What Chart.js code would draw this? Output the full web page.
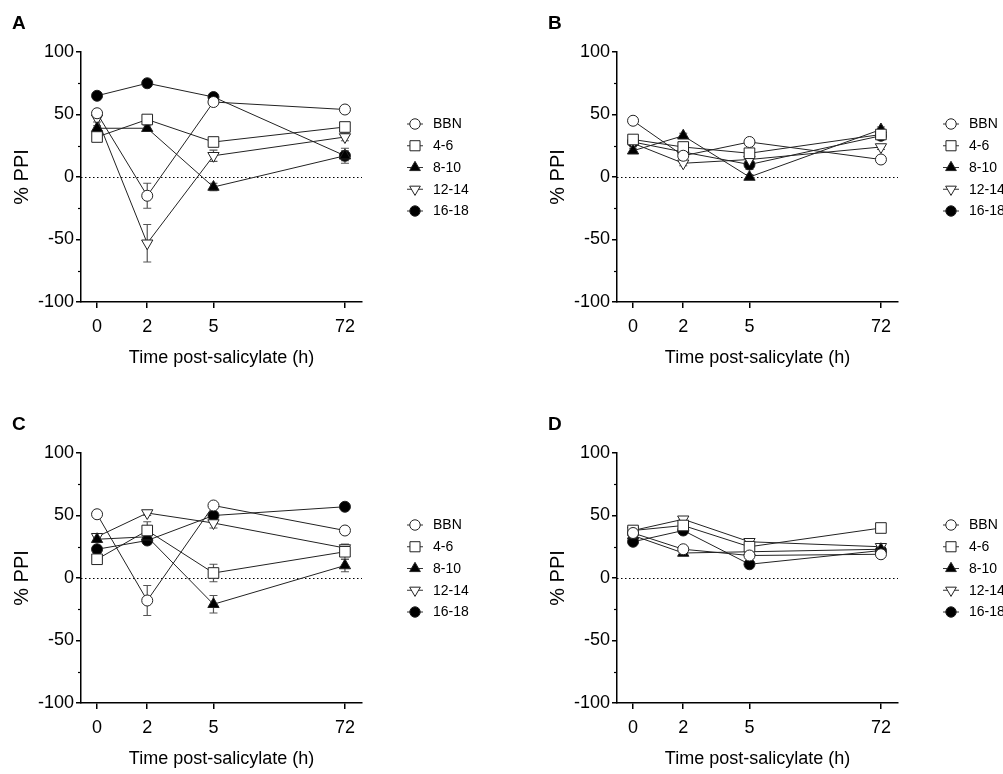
<!DOCTYPE html>
<html>
<head>
<meta charset="utf-8">
<title>% PPI after salicylate</title>
<script src="https://cdn.jsdelivr.net/npm/chart.js@4.4.1/dist/chart.umd.min.js"></script>
<style>
  html,body{margin:0;padding:0;background:#fff;overflow:hidden;}
  body{width:1003px;height:774px;position:relative;font-family:"Liberation Sans",Arial,sans-serif;}
  .panel{position:absolute;}
  .panel canvas{position:absolute;left:0;top:0;}
  .letter{position:absolute;left:12px;top:13px;font-weight:bold;font-size:19px;line-height:19px;color:#000;}
</style>
</head>
<body>
<div class="panel" style="left:0;top:0;width:500px;height:390px"><canvas id="cA" width="500" height="390"></canvas><div class="letter">A</div></div>
<div class="panel" style="left:536px;top:0;width:467px;height:390px"><canvas id="cB" width="467" height="390"></canvas><div class="letter">B</div></div>
<div class="panel" style="left:0;top:401px;width:500px;height:390px"><canvas id="cC" width="500" height="390"></canvas><div class="letter">C</div></div>
<div class="panel" style="left:536px;top:401px;width:467px;height:390px"><canvas id="cD" width="467" height="390"></canvas><div class="letter">D</div></div>
<script>
// time points (h) and age groups
const hours = [0, 2, 5, 72];
const groups = ["BBN", "4-6", "8-10", "12-14", "16-18"];
const yTicks = [-100, -50, 0, 50, 100];

// Panel A  (% PPI, mean / sem)
const A_BBN   = [51, -15, 60, 54];   const A_BBN_ERR   = [2, 10, 2, 2];
const A_4_6   = [32, 46, 28, 40];    const A_4_6_ERR   = [2, 2, 3, 3];
const A_8_10  = [39, 39, -8, 17];    const A_8_10_ERR  = [2, 2, 3, 4];
const A_12_14 = [47, -53, 17, 32];   const A_12_14_ERR = [3, 15, 4.5, 3];
const A_16_18 = [65, 75, 64, 17];    const A_16_18_ERR = [2, 2, 2, 6];

// Panel B
const B_BBN   = [45, 17, 28, 14];    const B_BBN_ERR   = [2, 2, 2, 2];
const B_4_6   = [30, 24, 19, 34];    const B_4_6_ERR   = [2, 2, 2, 2];
const B_8_10  = [21, 33, 0, 38];     const B_8_10_ERR  = [2, 2, 2, 2];
const B_12_14 = [27, 11, 14, 24];    const B_12_14_ERR = [2, 2, 2, 2];
const B_16_18 = [28, 20, 10, 33];    const B_16_18_ERR = [2, 2, 4, 2];

// Panel C
const C_BBN   = [51, -18, 58, 38];   const C_BBN_ERR   = [2, 12, 2, 2];
const C_4_6   = [15, 38, 4, 21];     const C_4_6_ERR   = [2, 7, 7, 6];
const C_8_10  = [31, 33, -21, 10];   const C_8_10_ERR  = [2, 2, 7, 5];
const C_12_14 = [33, 52, 44, 24];    const C_12_14_ERR = [2, 2, 4, 3];
const C_16_18 = [23, 30, 50, 57];    const C_16_18_ERR = [2, 3, 2, 2];

// Panel D
const D_BBN   = [36, 23, 18, 19];    const D_BBN_ERR   = [2, 2, 2, 2];
const D_4_6   = [38, 42, 25, 40];    const D_4_6_ERR   = [2, 2, 2, 2];
const D_8_10  = [34, 20, 21, 23];    const D_8_10_ERR  = [2, 2, 2, 2];
const D_12_14 = [38, 47, 29, 25];    const D_12_14_ERR = [2, 2, 2, 2];
const D_16_18 = [29, 38, 11, 22];    const D_16_18_ERR = [2, 2, 2, 2];

// ---- layout / style ----
// uneven spacing of the time axis (Prism-style), in axis units
const X_SLOT = [0, 50, 116, 247];
const FONT = "'Liberation Sans', Arial, sans-serif";
const MARK = [
  {style:"circle",   r:5.5, fill:"#fff", rot:0},
  {style:"rect",     r:7.5, fill:"#fff", rot:0},
  {style:"triangle", r:6.5, fill:"#000", rot:0},
  {style:"triangle", r:6.5, fill:"#fff", rot:180},
  {style:"circle",   r:5.5, fill:"#000", rot:0},
];

Chart.defaults.font.family = FONT;
Chart.defaults.color = "#000";

function drawMark(ctx, m, x, y, k){
  const r = m.r * k;
  ctx.beginPath();
  if (m.style === "circle"){
    ctx.arc(x, y, r, 0, Math.PI*2);
  } else if (m.style === "rect"){
    const s = r * Math.SQRT1_2;
    ctx.rect(x-s, y-s, 2*s, 2*s);
  } else {
    let a = m.rot * Math.PI/180;
    for (let i=0;i<3;i++){
      const px = x + Math.sin(a)*r, py = y - Math.cos(a)*r;
      i ? ctx.lineTo(px,py) : ctx.moveTo(px,py);
      a += Math.PI*2/3;
    }
    ctx.closePath();
  }
  ctx.fillStyle = m.fill; ctx.fill();
  ctx.strokeStyle = "#222"; ctx.lineWidth = 1; ctx.stroke();
}

const deco = {
  id: "deco",
  beforeDatasetsDraw(chart){
    const {ctx, chartArea:a, scales:{y}} = chart;
    ctx.save();
    // dotted zero line
    const y0 = Math.round(y.getPixelForValue(0)) + 0.5;
    ctx.setLineDash([1.5, 2.5]);
    ctx.strokeStyle = "#000"; ctx.lineWidth = 1;
    ctx.beginPath(); ctx.moveTo(a.left, y0); ctx.lineTo(a.right, y0); ctx.stroke();
    ctx.setLineDash([]);
    // minor y ticks
    ctx.lineWidth = 1.2;
    [-75, -25, 25, 75].forEach(v=>{
      const py = Math.round(y.getPixelForValue(v)) + 0.5;
      ctx.beginPath(); ctx.moveTo(a.left-3, py); ctx.lineTo(a.left, py); ctx.stroke();
    });
    // error bars
    ctx.strokeStyle = "#555"; ctx.lineWidth = 1.2;
    chart.data.datasets.forEach((ds, i)=>{
      const meta = chart.getDatasetMeta(i);
      ds.err.forEach((e, j)=>{
        const px = meta.data[j].x, v = ds.data[j].y;
        const t = y.getPixelForValue(v+e), b = y.getPixelForValue(v-e);
        ctx.beginPath();
        ctx.moveTo(px, t); ctx.lineTo(px, b);
        ctx.moveTo(px-4, t); ctx.lineTo(px+4, t);
        ctx.moveTo(px-4, b); ctx.lineTo(px+4, b);
        ctx.stroke();
      });
    });
    ctx.restore();
  },
  afterDraw(chart){
    const ctx = chart.ctx;
    ctx.save();
    ctx.font = "14px " + FONT;
    ctx.textBaseline = "middle";
    groups.forEach((g, i)=>{
      const ly = 124 + i*21.75, lx = 415;
      ctx.strokeStyle = "#333"; ctx.lineWidth = 1;
      ctx.beginPath(); ctx.moveTo(lx-8, ly); ctx.lineTo(lx+8, ly); ctx.stroke();
      drawMark(ctx, MARK[i], lx, ly, 0.95);
      ctx.fillStyle = "#000";
      ctx.fillText(g, lx+18, ly+0.5);
    });
    ctx.restore();
  }
};

function makePanel(id, series, errs){
  const cv = document.getElementById(id);
  const datasets = series.map((vals, i)=>({
    label: groups[i],
    data: vals.map((v, j)=>({x: X_SLOT[j], y: v})),
    err: errs[i],
    borderColor: "#222",
    borderWidth: 1,
    pointStyle: MARK[i].style,
    pointRadius: MARK[i].r,
    pointRotation: MARK[i].rot,
    pointBackgroundColor: MARK[i].fill,
    pointBorderColor: "#222",
    pointBorderWidth: 1,
    tension: 0,
  }));
  return new Chart(cv, {
    type: "line",
    data: {datasets},
    plugins: [deco],
    options: {
      responsive: false,
      animation: false,
      events: [],
      layout: {padding: {top: 52, right: cv.width - 362, bottom: 0, left: 0}},
      plugins: {legend: {display: false}, tooltip: {enabled: false}},
      scales: {
        x: {
          type: "linear", min: -16, max: 264,
          afterFit: s => { s.height = 88; },
          afterBuildTicks: s => { s.ticks = X_SLOT.map(v=>({value: v})); },
          grid: {drawOnChartArea: false, tickLength: 6, tickColor: "#000", lineWidth: 1.5},
          border: {display: true, color: "#000", width: 1.5},
          ticks: {autoSkip: false, maxRotation: 0, padding: 8, font: {size: 18},
                  callback: (v, i) => String(hours[i])},
          title: {display: true, text: "Time post-salicylate (h)", font: {size: 18}, padding: {top: 0, bottom: 21}},
        },
        y: {
          min: -100, max: 100,
          afterFit: s => { s.width = 81; },
          afterBuildTicks: s => { s.ticks = yTicks.map(v=>({value: v})); },
          grid: {drawOnChartArea: false, tickLength: 5, tickColor: "#000", lineWidth: 1.5},
          border: {display: true, color: "#000", width: 1.5},
          ticks: {padding: 2, font: {size: 18}},
          title: {display: true, text: "% PPI", font: {size: 20}, padding: {top: 10, bottom: 0}},
        }
      }
    }
  });
}

makePanel("cA", [A_BBN, A_4_6, A_8_10, A_12_14, A_16_18],
  [A_BBN_ERR, A_4_6_ERR, A_8_10_ERR, A_12_14_ERR, A_16_18_ERR]);
makePanel("cB", [B_BBN, B_4_6, B_8_10, B_12_14, B_16_18],
  [B_BBN_ERR, B_4_6_ERR, B_8_10_ERR, B_12_14_ERR, B_16_18_ERR]);
makePanel("cC", [C_BBN, C_4_6, C_8_10, C_12_14, C_16_18],
  [C_BBN_ERR, C_4_6_ERR, C_8_10_ERR, C_12_14_ERR, C_16_18_ERR]);
makePanel("cD", [D_BBN, D_4_6, D_8_10, D_12_14, D_16_18],
  [D_BBN_ERR, D_4_6_ERR, D_8_10_ERR, D_12_14_ERR, D_16_18_ERR]);
</script>
</body>
</html>
